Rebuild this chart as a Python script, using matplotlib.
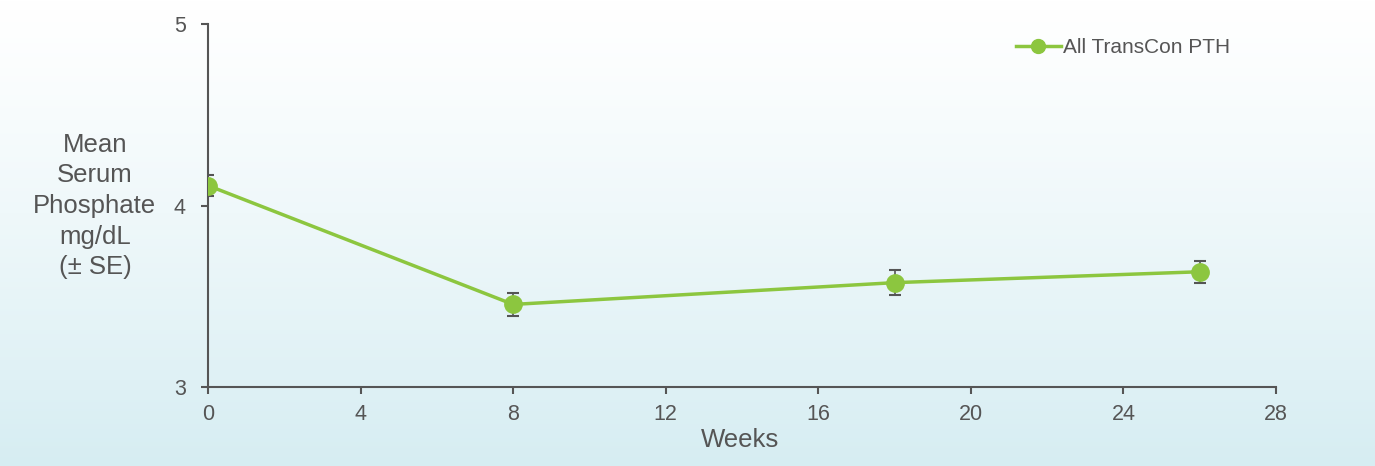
import numpy as np
import matplotlib.pyplot as plt

plt.rcParams['font.family'] = ['Liberation Sans', 'DejaVu Sans']

weeks = [0, 8, 18, 26]
phosphate = [4.11, 3.455, 3.575, 3.635]
se = [0.06, 0.065, 0.07, 0.06]

green = '#8cc63f'
grey = '#555555'

fig = plt.figure(figsize=(13.75, 4.66), dpi=100)

# background gradient, white at top to pale blue at bottom
bg = fig.add_axes([0, 0, 1, 1])
grad = np.linspace(0, 1, 256).reshape(-1, 1)
top = np.array([1.0, 1.0, 1.0])
bottom = np.array([0.84, 0.93, 0.95])
img = top + (bottom - top) * grad[:, :, None] ** 1.2
bg.imshow(img, aspect='auto', extent=[0, 1, 0, 1])
bg.axis('off')

ax = fig.add_axes([0.1513, 0.1695, 0.7767, 0.779])
ax.set_facecolor('none')

ax.errorbar(weeks, phosphate, yerr=se, fmt='none', ecolor=grey,
            elinewidth=1.2, capsize=4, capthick=1.5, zorder=2)
ax.plot(weeks, phosphate, color=green, lw=2.5, marker='o', ms=12.5,
        label='All TransCon PTH', zorder=3)

ax.set_xlim(0, 28)
ax.set_ylim(3, 5)
ax.set_xticks(range(0, 29, 4))
ax.set_yticks([3, 4, 5])
for s in ['top', 'right']:
    ax.spines[s].set_visible(False)
for s in ['left', 'bottom']:
    ax.spines[s].set_color(grey)
    ax.spines[s].set_linewidth(1.5)
ax.tick_params(colors=grey, labelsize=15.5, width=1.5, length=5)
ax.tick_params(axis='x', pad=7)
ax.tick_params(axis='y', pad=11)

fig.text(0.538, 0.056, 'Weeks', ha='center', va='center', fontsize=18.5,
         color=grey)
fig.text(0.069, 0.558, 'Mean\nSerum\nPhosphate\nmg/dL\n(± SE)', ha='center',
         va='center', fontsize=18.5, color=grey, linespacing=1.35)

leg = ax.legend(loc='upper right', frameon=False, fontsize=15,
                bbox_to_anchor=(0.975, 1.012), handlelength=2.2,
                handletextpad=0.1, markerscale=0.8)
for t in leg.get_texts():
    t.set_color(grey)

plt.savefig('out.png', dpi=100)
